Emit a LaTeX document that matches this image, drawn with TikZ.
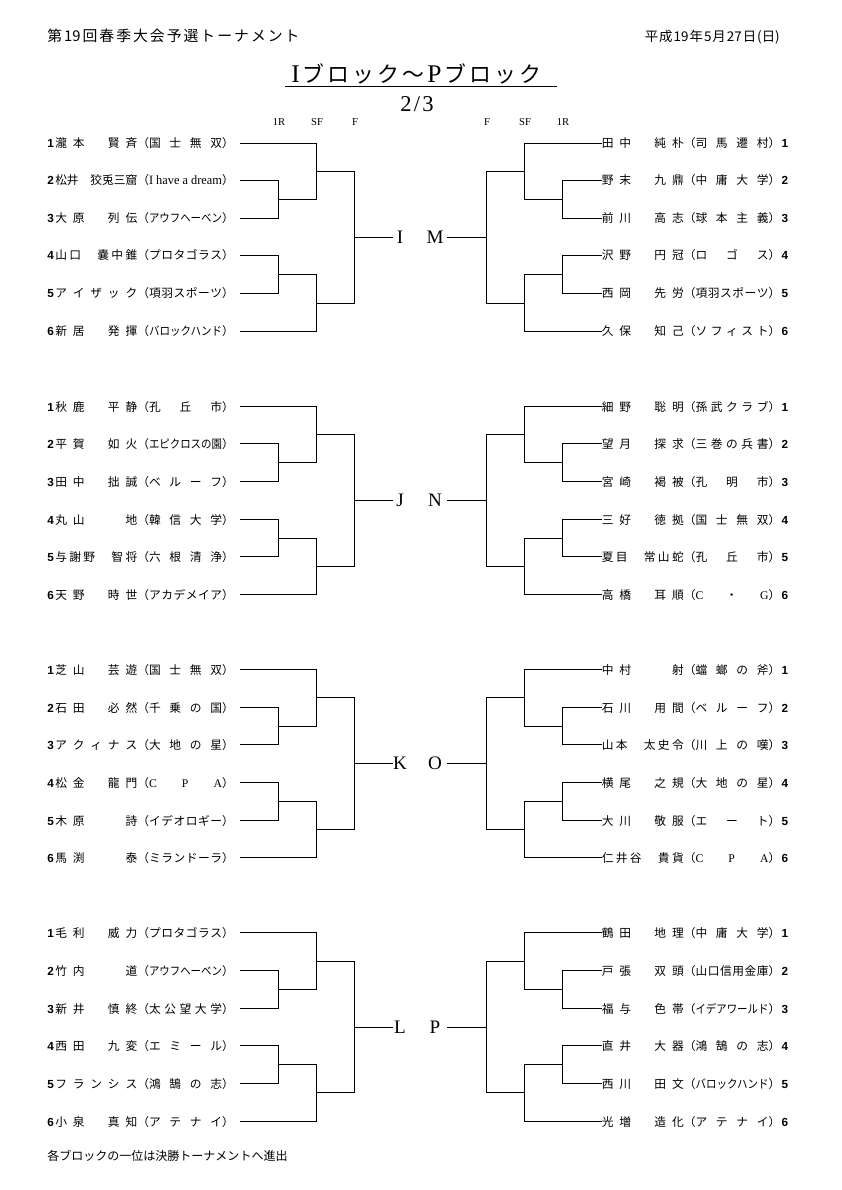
\documentclass[tikz,border=0pt]{standalone}
\usepackage{fontspec}
\usepackage{graphicx}
\newfontfamily\jp{Noto Sans CJK JP}
\newfontfamily\latf{Liberation Serif}
\newfontfamily\numfont{Liberation Sans}
\newcommand\numf{\numfont\bfseries}
\newdimen\PX \PX=0.7075pt
\makeatletter
\def\sepglue{}
\def\seplist#1{\sep@a#1\relax}
\def\sep@a#1{\ifx\relax#1\else#1\expandafter\sep@b\fi}
\def\sep@b#1{\ifx\relax#1\else\sepglue #1\expandafter\sep@b\fi}
\newcommand\dist[2]{%
  \setbox0\hbox{\def\sepglue{}\seplist{#2}}%
  \ifdim\wd0>\dimexpr#1\relax
    \pgfmathsetmacro\distf{\the\dimexpr#1\relax/\the\wd0}%
    \scalebox{\distf}[1]{\box0}%
  \else
    \makebox[#1][s]{\def\sepglue{\hskip 0pt plus 1fil\relax}\seplist{#2}}%
  \fi}
\newcommand\spaced[2]{{\def\sepglue{\hskip #1\relax}\seplist{#2}}}
\makeatother
\newcommand\tlr[1]{{\latf #1}}
\newcommand\ttl[1]{{\latf\fontsize{18}{20}\selectfont #1}}
% rows
\newcommand\Lrow[4]{%
  \node[rowtxt] (#4-t#1) at (47,{round(\Y+(#1-1)*37.65)+5}) {\makebox[8\PX][l]{\numf #1}\dist{82\PX}{#2}（\dist{73\PX}{#3}）};
  \coordinate (#4-l#1) at (239.5,{round(\Y+(#1-1)*37.65)+0.5});}
\newcommand\Rrow[4]{%
  \node[rowtxt] (#4-t#1) at (601.5,{round(\Y+(#1-1)*37.65)+5}) {\dist{82\PX}{#2}（\dist{73\PX}{#3}）\makebox[8\PX][r]{\numf #1}};
  \coordinate (#4-r#1) at (601.5,{round(\Y+(#1-1)*37.65)+0.5});}
\newcommand\Brk[3]{%
  \coordinate (#1-la) at (278.5,{round(\Y+56.475)+0.5});
  \coordinate (#1-lb) at (278.5,{round(\Y+131.775)+0.5});
  \coordinate (#1-lc) at (316.5,{round(\Y+28.24)+0.5});
  \coordinate (#1-ld) at (316.5,{round(\Y+160.01)+0.5});
  \coordinate (#1-le) at (354.5,{round(\Y+94.12)+0.5});
  \coordinate (#1-lx) at (393,{round(\Y+94.12)+0.5});
  \coordinate (#1-ra) at (562.5,{round(\Y+56.475)+0.5});
  \coordinate (#1-rb) at (562.5,{round(\Y+131.775)+0.5});
  \coordinate (#1-rc) at (524.5,{round(\Y+28.24)+0.5});
  \coordinate (#1-rd) at (524.5,{round(\Y+160.01)+0.5});
  \coordinate (#1-re) at (486.5,{round(\Y+94.12)+0.5});
  \coordinate (#1-rx) at (447,{round(\Y+94.12)+0.5});
  \node[ctr] (#1-lt) at (400,{round(\Y+94.12)+0.5+6.3}) {#2};
  \node[ctr] (#1-rt) at (435,{round(\Y+94.12)+0.5+6.3}) {#3};
  \draw[brk] (#1-l1) -| (#1-lc) (#1-la) -| (#1-lc)
    (#1-l2) -| (#1-la) (#1-l3) -| (#1-la)
    (#1-l4) -| (#1-lb) (#1-l5) -| (#1-lb)
    (#1-l6) -| (#1-ld) (#1-lb) -| (#1-ld)
    (#1-lc) -| (#1-le) (#1-ld) -| (#1-le) (#1-le) -- (#1-lx);
  \draw[brk] (#1-r1) -| (#1-rc) (#1-ra) -| (#1-rc)
    (#1-r2) -| (#1-ra) (#1-r3) -| (#1-ra)
    (#1-r4) -| (#1-rb) (#1-r5) -| (#1-rb)
    (#1-r6) -| (#1-rd) (#1-rb) -| (#1-rd)
    (#1-rc) -| (#1-re) (#1-rd) -| (#1-re) (#1-re) -- (#1-rx);}
\begin{document}
\begin{tikzpicture}[x=0.7075pt,y=-0.7075pt,
  rowtxt/.style={anchor=base west,inner sep=0pt,font=\jp\fontsize{8.3}{10}\selectfont},
  brk/.style={line width=1pt},
  ctr/.style={anchor=base,inner sep=0pt,font=\latf\fontsize{13.5}{15}\selectfont},
  rnd/.style={anchor=base,inner sep=0pt,font=\latf\fontsize{7.5}{9}\selectfont}]
\fill[white] (0,0) rectangle (841,1190);
\useasboundingbox (0,0) rectangle (841,1190);
% header
\node[anchor=base west,inner sep=0pt,font=\jp\fontsize{10.5}{12}\selectfont] (hdr) at (47,42) {\spaced{2\PX}{第{19}回春季大会予選トーナメント}};
\node[anchor=base east,inner sep=0pt,font=\jp\fontsize{9.5}{11}\selectfont] (date) at (780,42) {\spaced{1\PX}{平成{19}年{5}月{27}日{(日)}}};
\node[anchor=base west,inner sep=0pt,font=\jp\fontsize{15.5}{17}\selectfont] (title) at (291,83) {\dist{250\PX}{{\ttl I}ブロック～{\ttl P}ブロック}};
\coordinate (ula) at (285,86.5);
\coordinate (ulb) at (557,86.5);
\draw[line width=1pt] (ula) -- (ulb);
\node[anchor=base,inner sep=0pt,font=\latf\fontsize{16}{18}\selectfont] (page) at (417,112) {\spaced{1.5pt}{2/3}};
\node[rnd] (h1) at (279,126) {1R};
\node[rnd] (h2) at (317,126) {SF};
\node[rnd] (h3) at (355,126) {F};
\node[rnd] (h4) at (487,126) {F};
\node[rnd] (h5) at (525,126) {SF};
\node[rnd] (h6) at (563,126) {1R};
% ---------- block I / M
\def\Y{142.5}
\Lrow{1}{瀧本　賢斉}{国士無双}{I}
\Lrow{2}{松井　狡兎三窟}{{\hfil\latf\fontsize{9}{10}\selectfont I have a dream\hfil}}{I}
\Lrow{3}{大原　列伝}{アウフヘーベン}{I}
\Lrow{4}{山口　嚢中錐}{プロタゴラス}{I}
\Lrow{5}{アイザック}{項羽スポーツ}{I}
\Lrow{6}{新居　発揮}{バロックハンド}{I}
\Rrow{1}{田中　純朴}{司馬遷村}{I}
\Rrow{2}{野末　九鼎}{中庸大学}{I}
\Rrow{3}{前川　高志}{球本主義}{I}
\Rrow{4}{沢野　円冠}{ロゴス}{I}
\Rrow{5}{西岡　先労}{項羽スポーツ}{I}
\Rrow{6}{久保　知己}{ソフィスト}{I}
\Brk{I}{I}{M}
% ---------- block J / N
\def\Y{405.8}
\Lrow{1}{秋鹿　平静}{孔丘市}{J}
\Lrow{2}{平賀　如火}{エピクロスの園}{J}
\Lrow{3}{田中　拙誠}{ベルーフ}{J}
\Lrow{4}{丸山　　地}{韓信大学}{J}
\Lrow{5}{与謝野　智将}{六根清浄}{J}
\Lrow{6}{天野　時世}{アカデメイア}{J}
\Rrow{1}{細野　聡明}{孫武クラブ}{J}
\Rrow{2}{望月　探求}{三巻の兵書}{J}
\Rrow{3}{宮崎　褐被}{孔明市}{J}
\Rrow{4}{三好　徳拠}{国士無双}{J}
\Rrow{5}{夏目　常山蛇}{孔丘市}{J}
\Rrow{6}{高橋　耳順}{{\tlr C}・{\tlr G}}{J}
\Brk{J}{J}{N}
% ---------- block K / O
\def\Y{669.1}
\Lrow{1}{芝山　芸遊}{国士無双}{K}
\Lrow{2}{石田　必然}{千乗の国}{K}
\Lrow{3}{アクィナス}{大地の星}{K}
\Lrow{4}{松金　龍門}{{\tlr C}{\tlr P}{\tlr A}}{K}
\Lrow{5}{木原　　詩}{イデオロギー}{K}
\Lrow{6}{馬渕　　泰}{ミランドーラ}{K}
\Rrow{1}{中村　　射}{蟷螂の斧}{K}
\Rrow{2}{石川　用間}{ベルーフ}{K}
\Rrow{3}{山本　太史令}{川上の嘆}{K}
\Rrow{4}{横尾　之規}{大地の星}{K}
\Rrow{5}{大川　敬服}{エート}{K}
\Rrow{6}{仁井谷　貴貨}{{\tlr C}{\tlr P}{\tlr A}}{K}
\Brk{K}{K}{O}
% ---------- block L / P
\def\Y{932.4}
\Lrow{1}{毛利　威力}{プロタゴラス}{L}
\Lrow{2}{竹内　　道}{アウフヘーベン}{L}
\Lrow{3}{新井　慎終}{太公望大学}{L}
\Lrow{4}{西田　九変}{エミール}{L}
\Lrow{5}{フランシス}{鴻鵠の志}{L}
\Lrow{6}{小泉　真知}{アテナイ}{L}
\Rrow{1}{鶴田　地理}{中庸大学}{L}
\Rrow{2}{戸張　双頭}{山口信用金庫}{L}
\Rrow{3}{福与　色帯}{イデアワールド}{L}
\Rrow{4}{直井　大器}{鴻鵠の志}{L}
\Rrow{5}{西川　田文}{バロックハンド}{L}
\Rrow{6}{光増　造化}{アテナイ}{L}
\Brk{L}{L}{P}
% footer
\node[anchor=base west,inner sep=0pt,font=\jp\fontsize{8.5}{10}\selectfont] (foot) at (47,1160) {各ブロックの一位は決勝トーナメントへ進出};
\end{tikzpicture}
\end{document}
